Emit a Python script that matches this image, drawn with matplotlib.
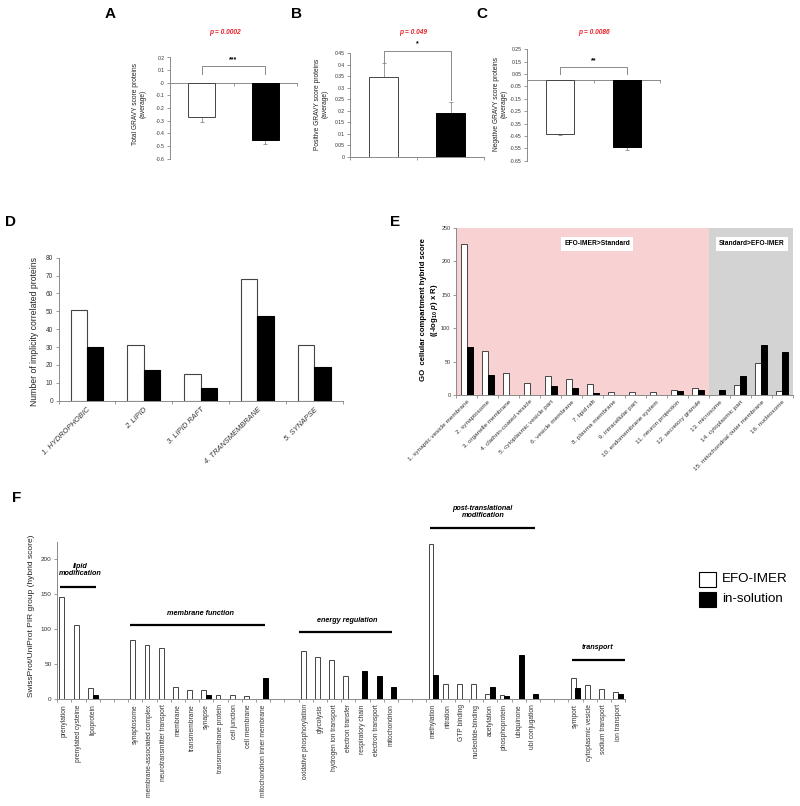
import numpy as np
import matplotlib
matplotlib.use('Agg')
import matplotlib.pyplot as plt
from matplotlib.patches import Rectangle

plt.rcParams['font.family'] = ['Liberation Sans', 'DejaVu Sans']
plt.rcParams['mathtext.fontset'] = 'custom'
plt.rcParams['mathtext.rm'] = 'Liberation Sans:bold'
plt.rcParams['mathtext.it'] = 'Liberation Sans:bold:italic'
plt.rcParams['mathtext.bf'] = 'Liberation Sans:bold'

# ---------------- data ----------------

# A-C: average GRAVY scores, EFO-IMER (white) vs in-solution (black)
total_gravy = [-0.27, -0.455]
total_gravy_err = [0.04, 0.03]
pos_gravy = [0.345, 0.19]
pos_gravy_err = [0.06, 0.05]
neg_gravy = [-0.43, -0.54]
neg_gravy_err = [0.015, 0.02]
p_values = ['p = 0.0002', 'p = 0.049', 'p = 0.0086']
stars = ['***', '*', '**']

# D: implicity correlated proteins
d_terms = ['1. HYDROPHOBIC', '2. LIPID', '3. LIPID RAFT', '4. TRANSMEMBRANE', '5. SYNAPSE']
d_efo = [51, 31, 15, 68, 31]
d_sol = [30, 17, 7, 47.5, 19]

# E: GO cellular compartment hybrid score
e_terms = ['1. synaptic vesicle membrane', '2. synaptosome', '3. organelle membrane',
           '4. clathrin-coated vesicle', '5. cytoplasmic vesicle part', '6. vesicle membrane',
           '7. lipid raft', '8. plasma membrane', '9. intracellular part',
           '10. endomembrane system', '11. neuron projection', '12. secretory granule',
           '13. microsome', '14. cytoplasmic part', '15. mitochondrial outer membrane',
           '16. nucleosome']
e_efo = [226, 66, 33, 18, 29, 24, 16, 5, 4, 4, 8, 10, 0, 15, 48, 6]
e_sol = [71, 30, 0, 0, 13, 11, 3.5, 0, 0, 0, 6, 8, 8, 28, 75, 65]

# F: SwissProt/UniProt PIR groups ('' = empty spacer category)
f_terms = ['prenylation', 'prenylated cysteine', 'lipoprotein', '', '',
           'synaptosome', 'membrane-associated complex', 'neurotransmitter transport',
           'membrane', 'transmembrane', 'synapse', 'transmembrane protein',
           'cell junction', 'cell membrane', 'mitochondrion inner membrane', '', '',
           'oxidative phosphorylation', 'glycolysis', 'hydrogen ion transport',
           'electron transfer', 'respiratory chain', 'electron transport', 'mitochondrion', '', '',
           'methylation', 'nitration', 'GTP binding', 'nucleotide-binding', 'acetylation',
           'phosphoprotein', 'ubiquinone', 'ubl conjugation', '', '',
           'symport', 'cytoplasmic vesicle', 'sodium transport', 'ion transport']
f_efo = [145, 105, 16, 0, 0,
         84, 77, 72, 17, 13, 12, 5, 5, 4, 0, 0, 0,
         69, 60, 55, 32, 0, 0, 0, 0, 0,
         222, 21, 21, 21, 7, 5, 0, 0, 0, 0,
         29, 20, 14, 9]
f_sol = [0, 0, 6, 0, 0,
         0, 0, 0, 0, 0, 5, 0, 0, 0, 29, 0, 0,
         0, 0, 0, 0, 40, 33, 17, 0, 0,
         34, 0, 0, 0, 17, 4, 63, 7, 0, 0,
         15, 0, 0, 7]
f_groups = ['lipid\nmodification', 'membrane function', 'energy regulation',
            'post-translational\nmodification', 'transport']

W, H = 800, 806
GRAY = '#8a8a8a'
EDGE = '#444444'

fig = plt.figure(figsize=(W / 100, H / 100), dpi=100)


def px_axes(x0, x1, ytop, ybot):
    return fig.add_axes([x0 / W, 1 - ybot / H, (x1 - x0) / W, (ybot - ytop) / H])


def excel_style(ax, ncat, tick_fs):
    ax.spines['top'].set_visible(False)
    ax.spines['right'].set_visible(False)
    for s in ['left', 'bottom']:
        ax.spines[s].set_color(GRAY)
        ax.spines[s].set_linewidth(0.7)
    ax.spines['bottom'].set_position(('data', 0))
    ax.set_xlim(-0.5, ncat - 0.5)
    ax.set_xticks(np.arange(ncat + 1) - 0.5)
    ax.set_xticklabels([])
    ax.tick_params(axis='x', which='major', length=2.5, width=0.6, color=GRAY)
    ax.tick_params(axis='x', which='minor', length=0)
    ax.tick_params(axis='y', length=2.5, width=0.6, color=GRAY, pad=1.5,
                   labelsize=tick_fs, labelcolor='#333333')
    ax.set_facecolor('none')


def fmt_ticks(ax, ticks):
    ax.set_yticks(ticks)
    ax.set_yticklabels([f'{np.round(t, 2):g}' for t in ticks])


def pair_bars(ax, efo, sol, w, lw=0.7):
    x = np.arange(len(efo))
    efo = np.array(efo, dtype=float)
    sol = np.array(sol, dtype=float)
    m1 = efo > 0
    m2 = sol > 0
    ax.bar(x[m1] - w / 2, efo[m1], width=w, color='white', edgecolor=EDGE, linewidth=lw, zorder=3)
    ax.bar(x[m2] + w / 2, sol[m2], width=w, color='black', edgecolor='black', linewidth=lw, zorder=3)


# ---------------- A, B, C ----------------
gravy = [
    (total_gravy, total_gravy_err, (170, 297, 57.5, 158.6), (-0.6, 0.2), np.arange(-0.6, 0.21, 0.1),
     'Total GRAVY score proteins\n(average)', 139, (0.07, 0.135, 0.07), 0.18),
    (pos_gravy, pos_gravy_err, (350, 484, 53, 157), (0, 0.45), np.arange(0, 0.46, 0.05),
     'Positive GRAVY score proteins\n(average)', 321, (0.405, 0.459, 0.245), 0.49),
    (neg_gravy, neg_gravy_err, (527, 660, 49.3, 160.8), (-0.65, 0.25), np.arange(-0.65, 0.26, 0.1),
     'Negative GRAVY score proteins\n(average)', 500, (0.05, 0.109, 0.05), 0.158),
]
letter_x = [110, 296, 482]
p_x = [225, 413, 594]

for i, (vals, err, rect, ylim, ticks, ylab, ylab_x, br, star_y) in enumerate(gravy):
    ax = px_axes(*rect)
    excel_style(ax, 2, 3.7)
    ax.bar([0, 1], vals, width=0.42, color=['white', 'black'],
           edgecolor=[EDGE, 'black'], linewidth=0.7, zorder=3)
    zeros = [0, 0]
    yerr = [zeros, err] if vals[0] > 0 else [err, zeros]
    ax.errorbar([0, 1], vals, yerr=yerr, fmt='none', ecolor=GRAY,
                elinewidth=0.6, capsize=1.2, capthick=0.6, zorder=2)
    ax.set_ylim(*ylim)
    fmt_ticks(ax, ticks)
    ax.plot([0, 0, 1, 1], [br[0], br[1], br[1], br[2]], color=GRAY, lw=0.7, clip_on=False)
    ax.text(0.5, star_y, stars[i], ha='center', va='center', fontsize=5, fontweight='bold')
    fig.text(ylab_x / W, 1 - 104 / H, ylab, rotation=90, ha='center', va='center',
             fontsize=4.8, color='#222222', linespacing=1.1)
    fig.text(p_x[i] / W, 1 - 32 / H, p_values[i], ha='center', va='center', fontsize=4.8,
             fontweight='bold', fontstyle='italic', color='#e8232a')
    fig.text(letter_x[i] / W, 1 - 14 / H, 'ABC'[i], ha='center', va='center',
             fontsize=11, fontweight='bold')

# ---------------- D ----------------
ax = px_axes(58.6, 342.7, 257.7, 400.7)
excel_style(ax, len(d_terms), 4.7)
pair_bars(ax, d_efo, d_sol, 0.29, lw=0.8)
ax.set_ylim(0, 80)
fmt_ticks(ax, np.arange(0, 81, 10))
ax.set_xticks(np.arange(len(d_terms)), minor=True)
ax.set_xticklabels(d_terms, minor=True, rotation=45, ha='right', va='top',
                   rotation_mode='anchor', fontsize=5.4, fontstyle='italic', color='#333333')
ax.tick_params(axis='x', which='minor', pad=4)
fig.text(35 / W, 1 - 331 / H, 'Number of implicity correlated proteins', rotation=90,
         ha='center', va='center', fontsize=6.2, color='#222222')
fig.text(11 / W, 1 - 222 / H, 'D', ha='center', va='center', fontsize=11, fontweight='bold')

# ---------------- E ----------------
ax = px_axes(456, 793, 227.7, 395)
excel_style(ax, len(e_terms), 4.0)
ax.axvspan(-0.5, 11.5, color='#f8d2d2', lw=0, zorder=0)
ax.axvspan(11.5, len(e_terms) - 0.5, color='#d3d3d3', lw=0, zorder=0)
pair_bars(ax, e_efo, e_sol, 0.285)
ax.set_ylim(0, 250)
fmt_ticks(ax, np.arange(0, 251, 50))
ax.set_xticks(np.arange(len(e_terms)), minor=True)
ax.set_xticklabels(e_terms, minor=True, rotation=45, ha='right', va='top',
                   rotation_mode='anchor', fontsize=4.6, color='#333333')
ax.tick_params(axis='x', which='minor', pad=3)
box = dict(facecolor='white', edgecolor='none', pad=2.5)
ax.text(6.2, 226, 'EFO-IMER>Standard', ha='center', va='center', fontsize=4.8,
        fontweight='bold', bbox=box, zorder=4)
ax.text(13.55, 226, 'Standard>EFO-IMER', ha='center', va='center', fontsize=4.8,
        fontweight='bold', bbox=box, zorder=4)
fig.text(430 / W, 1 - 310 / H,
         'GO  cellular compartment hybrid score\n((-log$_{10}$ $p$) x R)', rotation=90,
         ha='center', va='center', fontsize=5.6, fontweight='bold', linespacing=1.15)
fig.text(395 / W, 1 - 222 / H, 'E', ha='center', va='center', fontsize=11, fontweight='bold')

# ---------------- F ----------------
ax = px_axes(57.2, 625.2, 524.2, 698.7)
excel_style(ax, len(f_terms), 4.6)
pair_bars(ax, f_efo, f_sol, 0.35)
ax.set_ylim(0, 250)
ax.spines['left'].set_bounds(0, 225)
fmt_ticks(ax, np.arange(0, 201, 50))
ax.set_xticks(np.arange(len(f_terms)), minor=True)
ax.set_xticklabels(f_terms, minor=True, rotation=90, ha='center', va='top',
                   fontsize=4.8, color='#333333')
ax.tick_params(axis='x', which='minor', pad=4)

group_lines = [(-0.3, 2.23, 160), (4.63, 14.13, 105), (16.55, 23.1, 95),
               (25.75, 33.15, 244.6), (35.73, 39.5, 55)]
group_text = [(1.1, 184), (9.56, 122.6), (19.9, 112), (29.47, 268), (37.53, 73)]
for name, (x0, x1, ly), (tx, ty) in zip(f_groups, group_lines, group_text):
    ax.plot([x0, x1], [ly, ly], color='black', lw=1.6, clip_on=False, solid_capstyle='butt')
    ax.text(tx, ty, name, ha='center', va='center', fontsize=5.2, fontweight='bold',
            fontstyle='italic', linespacing=1.05)

fig.text(32 / W, 1 - 616 / H, 'SwissProt/UniProt PIR group (hybrid score)', rotation=90,
         ha='center', va='center', fontsize=6.0, color='#222222')
fig.text(17 / W, 1 - 498 / H, 'F', ha='center', va='center', fontsize=11, fontweight='bold')

# legend
for j, (fc, lab) in enumerate([('white', 'EFO-IMER'), ('black', 'in-solution')]):
    ytop = 572 + j * 20
    fig.add_artist(Rectangle((699 / W, 1 - (ytop + 15) / H), 16.7 / W, 15 / H,
                             transform=fig.transFigure, facecolor=fc, edgecolor='black', lw=0.8))
    fig.text(722 / W, 1 - (ytop + 7.5) / H, lab, ha='left', va='center', fontsize=9.6)

fig.savefig('out.png', dpi=100, facecolor='white')
